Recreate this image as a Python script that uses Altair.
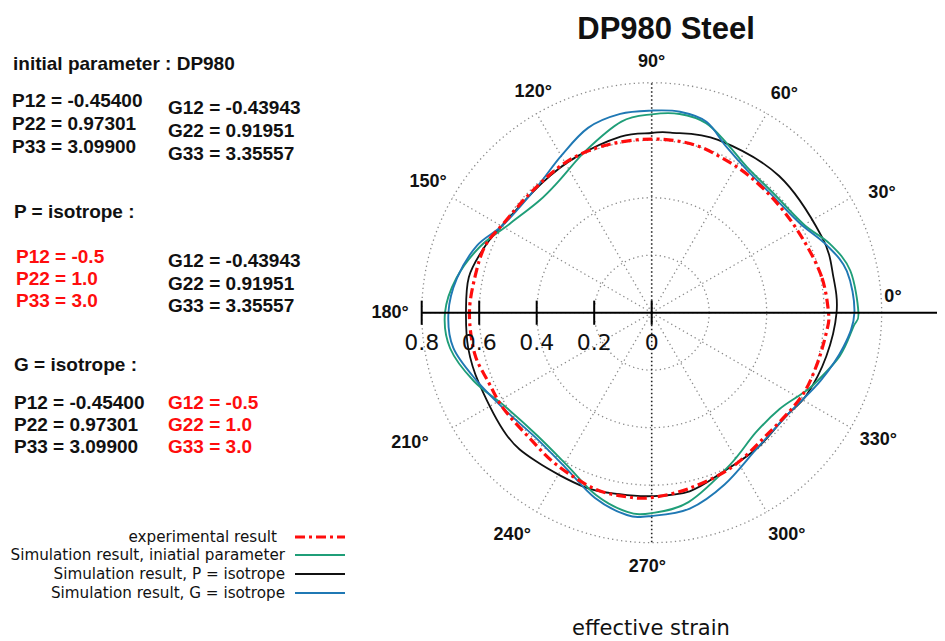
import altair as alt
import pandas as pd

# ---------------- data ----------------
# experimental result (red dash-dot)
exp_angle = [0, 12, 26, 40, 54, 66, 77, 90, 105, 119, 134, 149, 158, 168, 180,
             193, 203, 213, 226, 238, 252, 262, 270, 282, 297, 313, 330, 342, 354]
exp_r = [0.615, 0.604, 0.585, 0.579, 0.584, 0.592, 0.603, 0.604, 0.604, 0.603, 0.593, 0.602, 0.624, 0.627, 0.634,
         0.632, 0.617, 0.614, 0.609, 0.624, 0.644, 0.646, 0.643, 0.625, 0.606, 0.584, 0.596, 0.602, 0.612]

# simulation, initial parameter (green)
ini_angle = [0, 12, 21, 30, 44, 57, 66, 74, 82, 90, 99, 112, 125, 135, 148, 159, 170, 180,
             190, 201, 213, 227, 241, 253, 263, 270, 281, 297, 311, 323, 331, 336, 347, 356]
ini_r = [0.719, 0.706, 0.665, 0.612, 0.593, 0.606, 0.644, 0.686, 0.698, 0.690, 0.673, 0.609, 0.561, 0.552, 0.583, 0.640, 0.690, 0.719,
         0.712, 0.663, 0.604, 0.584, 0.607, 0.663, 0.698, 0.697, 0.671, 0.596, 0.552, 0.557, 0.590, 0.616, 0.671, 0.703]

# simulation, P = isotrope (black)
piso_angle = [0, 11, 24, 47, 69, 84, 90, 100, 116, 130, 150, 159, 169, 180,
              191, 202, 220, 232, 249, 260, 270, 282, 294, 308, 322, 332, 346]
piso_r = [0.643, 0.644, 0.648, 0.650, 0.644, 0.630, 0.625, 0.622, 0.602, 0.591, 0.603, 0.626, 0.648, 0.646,
          0.650, 0.649, 0.660, 0.655, 0.650, 0.641, 0.638, 0.635, 0.607, 0.597, 0.589, 0.610, 0.626]

# simulation, G = isotrope (blue)
giso_angle = [0, 12, 21, 31, 44, 56, 66, 74, 82, 90, 99, 109, 120, 132, 149, 159, 170, 180,
              190, 201, 214, 227, 241, 253, 263, 270, 281, 293, 308, 324, 338, 350]
giso_r = [0.705, 0.694, 0.653, 0.602, 0.585, 0.596, 0.634, 0.691, 0.706, 0.703, 0.700, 0.680, 0.630, 0.593, 0.599, 0.651, 0.688, 0.707,
          0.701, 0.654, 0.611, 0.593, 0.617, 0.674, 0.709, 0.707, 0.694, 0.649, 0.597, 0.592, 0.633, 0.678]

series_names = ["experimental result", "Simulation result, iniatial parameter",
                "Simulation result, P = isotrope", "Simulation result, G = isotrope"]

grid_radii = [0.2, 0.4, 0.6, 0.8]
spoke_angles = [0, 30, 60, 90, 120, 150, 180, 210, 240, 270, 300, 330]
tick_values = [0.8, 0.6, 0.4, 0.2, 0.0]
tick_labels = ["0.8", "0.6", "0.4", "0.2", "0"]
angle_labels = ["0°", "30°", "60°", "90°", "120°", "150°", "180°", "210°", "240°", "270°", "300°", "330°"]

title_text = "DP980 Steel"
bottom_text = "effective strain"

panel_texts = [
    "initial parameter : DP980",
    "P12 = -0.45400", "P22 = 0.97301", "P33 = 3.09900",
    "G12 = -0.43943", "G22 = 0.91951", "G33 = 3.35557",
    "P = isotrope :",
    "P12 = -0.5", "P22 = 1.0", "P33 = 3.0",
    "G12 = -0.43943", "G22 = 0.91951", "G33 = 3.35557",
    "G = isotrope :",
    "P12 = -0.45400", "P22 = 0.97301", "P33 = 3.09900",
    "G12 = -0.5", "G22 = 1.0", "G33 = 3.0",
]

# ---------------- layout / styles ----------------
RED, GREEN, BLACK, BLUE = "#ff0d0d", "#1f9e78", "#111111", "#1f78b4"
W, H = 929, 633
CX, CY = 651.7 - 8, 312.7 - 8      # pole in plot pixels
PPU = 287.5                         # pixels per strain unit
xs = alt.Scale(domain=[-CX / PPU, (W - CX) / PPU], nice=False, zero=False)
ys = alt.Scale(domain=[-(H - CY) / PPU, CY / PPU], nice=False, zero=False)

# label placement (angle deg, radius) for angular labels
label_pos_angle = [3.7, 27.5, 58.8, 90, 118.2, 149.7, 180, 208.3, 237.9, 269, 301.3, 330.7]
label_pos_r = [0.841, 0.903, 0.890, 0.872, 0.872, 0.901, 0.910, 0.955, 0.913, 0.885, 0.905, 0.904]

panel_x = [13, 12, 12, 12, 168, 168, 168, 14, 16, 16, 16, 168, 168, 168, 14, 14, 14, 14, 168, 168, 168]
panel_y = [64, 101, 124, 147, 108, 131, 154, 212, 257, 279, 301, 261, 284, 306, 365, 403, 425, 447, 403, 425, 447]
panel_col = ["k"] * 8 + ["r"] * 3 + ["k"] * 3 + ["k"] * 4 + ["r"] * 3

legend_text_x = [277, 285, 285, 285]
legend_y = [537, 555, 574, 593]
legend_line_x = (295, 345)


def X(field):
    return alt.X(field, scale=xs, axis=None)


def Y(field):
    return alt.Y(field, scale=ys, axis=None)


POLAR_X = "datum.r*cos(datum.angle*PI/180)"
POLAR_Y = "datum.r*sin(datum.angle*PI/180)"

layers = []

# grid circles
circ = pd.DataFrame([{"radius": rr, "angle": a} for rr in grid_radii for a in range(0, 360, 2)])
layers.append(
    alt.Chart(circ).transform_calculate(r="datum.radius", x=POLAR_X, y=POLAR_Y)
    .mark_line(interpolate="linear-closed", color="#8a8a8a", strokeWidth=1.3, strokeDash=[1.3, 3.2])
    .encode(x=X("x:Q"), y=Y("y:Q"), detail="radius:N", order="angle:Q")
)

# spokes
spk = pd.DataFrame({"angle": spoke_angles})
spk["dark"] = [a % 180 == 90 for a in spoke_angles]
for dark in (False, True):
    layers.append(
        alt.Chart(spk).transform_filter(alt.datum.dark == dark)
        .transform_calculate(x2="0.8*cos(datum.angle*PI/180)", y2="0.8*sin(datum.angle*PI/180)", x="0", y="0")
        .mark_rule(color="#222222" if dark else "#8a8a8a", strokeWidth=1.6 if dark else 1.3,
                   strokeDash=[1.5, 2.5] if dark else [1.3, 3.2])
        .encode(x=X("x:Q"), y=Y("y:Q"), x2="x2:Q", y2="y2:Q")
    )

# curves
def curve(angles, radii, color, width, dash=None):
    df = pd.DataFrame({"angle": angles, "r": radii})
    kw = dict(interpolate="cardinal-closed", color=color, strokeWidth=width)
    if dash:
        kw["strokeDash"] = dash
    return (alt.Chart(df).transform_calculate(x=POLAR_X, y=POLAR_Y)
            .mark_line(**kw).encode(x=X("x:Q"), y=Y("y:Q"), order="angle:Q"))


layers.append(curve(piso_angle, piso_r, BLACK, 1.8))
layers.append(curve(ini_angle, ini_r, GREEN, 1.9))
layers.append(curve(giso_angle, giso_r, BLUE, 1.9))
layers.append(curve(exp_angle, exp_r, RED, 3.2, [10, 4, 3, 4]))

# radial axis
axis_df = pd.DataFrame({"x": [-0.8], "x2": [(W - CX) / PPU + 0.05], "y": [0.0]})
layers.append(alt.Chart(axis_df).mark_rule(color="black", strokeWidth=2)
              .encode(x=X("x:Q"), x2="x2:Q", y=Y("y:Q")))
tk = pd.DataFrame({"v": tick_values, "lab": tick_labels})
layers.append(alt.Chart(tk).transform_calculate(x="-datum.v", y="-0.042", y2="0.042")
              .mark_rule(color="black", strokeWidth=2).encode(x=X("x:Q"), y=Y("y:Q"), y2="y2:Q"))
layers.append(alt.Chart(tk).transform_calculate(x="-datum.v", y="-0.105")
              .mark_text(font="DejaVu Sans", fontSize=22, color="#111111", baseline="middle")
              .encode(x=X("x:Q"), y=Y("y:Q"), text="lab:N"))

# angular labels
al = pd.DataFrame({"lab": angle_labels, "angle": label_pos_angle, "r": label_pos_r})
layers.append(alt.Chart(al).transform_calculate(x=POLAR_X, y=POLAR_Y)
              .mark_text(font="Liberation Sans", fontWeight="bold", fontSize=18, color="#111111", baseline="middle")
              .encode(x=X("x:Q"), y=Y("y:Q"), text="lab:N"))

# title and bottom label (pixel placement)
layers.append(alt.Chart(pd.DataFrame({"t": [title_text]})).mark_text(
    font="Liberation Sans", fontWeight="bold", fontSize=31, color="#111111", baseline="middle")
    .encode(x=alt.value(666 - 8), y=alt.value(30 - 8), text="t:N"))
layers.append(alt.Chart(pd.DataFrame({"t": [bottom_text]})).mark_text(
    font="DejaVu Sans", fontSize=21, color="#111111", baseline="alphabetic")
    .encode(x=alt.value(651 - 8), y=alt.value(635 - 8), text="t:N"))

# left panel texts
pt = pd.DataFrame({"t": panel_texts, "px": [v - 8 for v in panel_x], "py": [v - 8 for v in panel_y],
                   "c": [RED if c == "r" else "#111111" for c in panel_col]})
layers.append(alt.Chart(pt).mark_text(font="Liberation Sans", fontWeight="bold", fontSize=19,
                                      align="left", baseline="middle")
              .encode(x=alt.X("px:Q", scale=None), y=alt.Y("py:Q", scale=None),
                      text="t:N", color=alt.Color("c:N", scale=None)))

# legend
lg = pd.DataFrame({"t": series_names, "px": [v - 8 for v in legend_text_x], "py": [v - 8 for v in legend_y],
                   "lx": legend_line_x[0] - 8, "lx2": legend_line_x[1] - 8})
layers.append(alt.Chart(lg).mark_text(font="DejaVu Sans", fontSize=15.2, align="right", baseline="middle",
                                      color="#111111")
              .encode(x=alt.X("px:Q", scale=None), y=alt.Y("py:Q", scale=None), text="t:N"))
styles = [(RED, 3.2, [10, 4, 3, 4]), (GREEN, 1.9, None), (BLACK, 1.9, None), (BLUE, 1.9, None)]
for i, (col, wdt, dash) in enumerate(styles):
    kw = dict(color=col, strokeWidth=wdt)
    if dash:
        kw["strokeDash"] = dash
    layers.append(alt.Chart(lg.iloc[[i]]).mark_rule(**kw)
                  .encode(x=alt.X("lx:Q", scale=None), x2="lx2:Q", y=alt.Y("py:Q", scale=None)))

chart = (alt.layer(*layers)
         .resolve_scale(x="independent", y="independent", color="independent")
         .properties(width=W, height=H, padding=0, autosize=alt.AutoSizeParams(type="none"))
         .configure_view(stroke=None))

chart.save("out.html", embed_options={"renderer": "svg", "actions": False})
